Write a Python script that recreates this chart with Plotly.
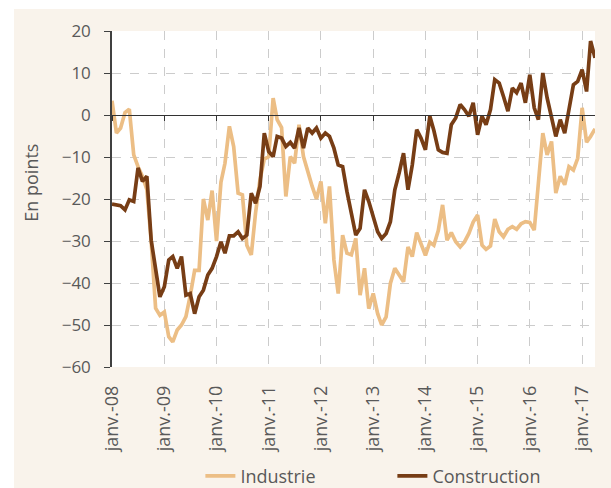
import plotly.graph_objects as go
import pandas as pd

# Monthly dates Jan 2008 - Apr 2017
months = pd.date_range("2008-01-01", periods=112, freq="MS")

industrie = [
    3.4, -4.3, -3.1, 0.6, 1.4, -9.5, -12.3, -14.6, -17.8, -30.0,
    -46.0, -47.7, -46.9, -52.8, -54.0, -51.2, -50.0, -48.0, -43.0, -37.0,
    -37.0, -20.0, -25.0, -18.0, -30.0, -16.0, -11.5, -2.7, -7.5, -18.6,
    -19.0, -31.0, -33.3, -23.3, -15.4, -10.5, -9.9, 4.0, -1.1, -3.0,
    -19.4, -9.9, -11.5, -2.3, -9.9, -13.8, -17.0, -20.0, -15.8, -25.8,
    -17.0, -34.5, -42.5, -28.6, -32.9, -33.3, -29.4, -42.9, -36.5, -46.1,
    -42.5, -47.3, -50.0, -48.1, -40.1, -36.5, -38.1, -39.7, -31.4, -33.7,
    -28.0, -30.5, -33.4, -30.3, -31.0, -27.5, -21.4, -29.8, -28.0, -30.2,
    -31.4, -30.2, -28.2, -25.5, -23.8, -31.0, -32.0, -31.2, -24.8, -27.8,
    -29.0, -27.2, -26.6, -27.2, -25.9, -25.4, -25.6, -27.4, -15.4, -4.3,
    -9.5, -6.3, -18.6, -14.6, -16.6, -12.3, -13.1, -10.3, 1.7, -6.5,
    -5.1, -3.3,
]

construction = [
    -21.2, -21.4, -21.6, -22.6, -20.2, -20.6, -12.6, -15.8, -14.6, -29.8,
    -36.1, -43.3, -40.9, -34.5, -33.7, -36.5, -33.7, -42.9, -42.5, -47.3,
    -43.3, -41.7, -38.1, -36.5, -33.7, -30.2, -32.9, -28.8, -28.8, -27.8,
    -29.4, -28.6, -18.6, -21.0, -17.0, -4.3, -8.7, -9.9, -5.1, -5.5,
    -7.5, -6.5, -7.9, -3.1, -7.9, -3.1, -4.3, -3.1, -5.5, -4.3,
    -5.1, -7.9, -11.9, -12.3, -18.2, -23.4, -28.6, -27.0, -17.8, -20.6,
    -24.2, -27.8, -29.4, -28.2, -25.4, -17.8, -13.8, -9.1, -17.8, -11.9,
    -3.5, -5.5, -8.3, -0.3, -3.7, -8.3, -8.9, -9.1, -2.3, -0.7,
    2.5, 1.3, -0.3, 2.9, -4.7, -0.3, -2.3, 1.3, 8.4, 7.6,
    4.4, 0.9, 6.4, 5.3, 7.6, 2.9, 9.6, 1.7, -1.1, 10.0,
    4.1, -0.3, -5.1, -1.1, -4.3, 1.3, 7.2, 8.0, 10.8, 5.6,
    17.6, 13.6,
]

tick_dates = pd.date_range("2008-01-01", periods=10, freq="12MS")
tick_labels = ["janv.-08", "janv.-09", "janv.-10", "janv.-11", "janv.-12",
               "janv.-13", "janv.-14", "janv.-15", "janv.-16", "janv.-17"]

series_names = ["Industrie", "Construction"]
series_colors = ["#ECBE85", "#773D15"]
y_title = "En points"

CREAM = "#F9F3EB"
TXT = "#595959"
FONT = "Open Sans"

fig = go.Figure()
for name, vals, col in zip(series_names, [industrie, construction], series_colors):
    fig.add_trace(go.Scatter(x=months, y=vals, mode="lines", name=name,
                             line=dict(color=col, width=3.7)))

# helper (invisible) trace so the zero-crossing category axis gets drawn
fig.add_trace(go.Scatter(x=[months[0]], y=[None], xaxis="x2", yaxis="y",
                         mode="lines", showlegend=False, hoverinfo="skip"))

x_range = [months[0], months[-1]]

fig.update_layout(
    width=611, height=488,
    margin=dict(l=112, r=16, t=31, b=121, autoexpand=False),
    paper_bgcolor="white",
    plot_bgcolor="white",
    font=dict(family=FONT, size=17, color=TXT),
    showlegend=True,
    legend=dict(orientation="h", x=0.183, xanchor="left", y=-0.325, yanchor="middle",
                bgcolor="rgba(0,0,0,0)", font=dict(size=18, color=TXT),
                entrywidth=147, entrywidthmode="pixels"),
    xaxis=dict(
        type="date", range=x_range, automargin=False,
        tickvals=tick_dates, ticktext=tick_labels, tickangle=-90,
        showgrid=True, gridcolor="#CCCCCC", griddash="dash", gridwidth=1,
        showline=False, zeroline=False, ticks="", ticklabelstandoff=14,
        tickfont=dict(size=18, color=TXT),
    ),
    xaxis2=dict(
        type="date", range=x_range, overlaying="x", anchor="free", position=0.75,
        side="bottom", tickvals=tick_dates, showticklabels=False, automargin=False,
        ticks="outside", ticklen=5, tickcolor="#333333", tickwidth=1,
        showline=True, linecolor="#333333", linewidth=1, showgrid=False,
        zeroline=False,
    ),
    yaxis=dict(
        range=[-60, 20], dtick=10, tick0=0, automargin=False,
        showgrid=True, gridcolor="#CCCCCC", griddash="dash", gridwidth=1,
        showline=True, linecolor="#404040", linewidth=1.5,
        ticks="outside", ticklen=6, tickcolor="#404040",
        zeroline=False, ticklabelstandoff=10,
        tickfont=dict(size=17, color=TXT),
    ),
    annotations=[
        dict(text=y_title, xref="paper", yref="paper", x=(31 - 112) / 483,
             y=(367 - 183) / 335.5, xanchor="center", yanchor="middle",
             textangle=-90, showarrow=False, font=dict(size=18, color=TXT)),
    ],
    shapes=[
        dict(type="rect", xref="paper", yref="paper", layer="below",
             x0=-98 / 483, x1=1 + 20 / 483, y0=-125 / 335.5, y1=1 + 22 / 335.5,
             fillcolor=CREAM, line=dict(width=0)),
        dict(type="rect", xref="paper", yref="paper", layer="below",
             x0=0, x1=1, y0=0, y1=1, fillcolor="white", line=dict(width=0)),
    ],
)

fig.write_html("out.html", config={"displayModeBar": False},
               post_script="document.body.style.margin='0';document.body.style.overflow='hidden';")
